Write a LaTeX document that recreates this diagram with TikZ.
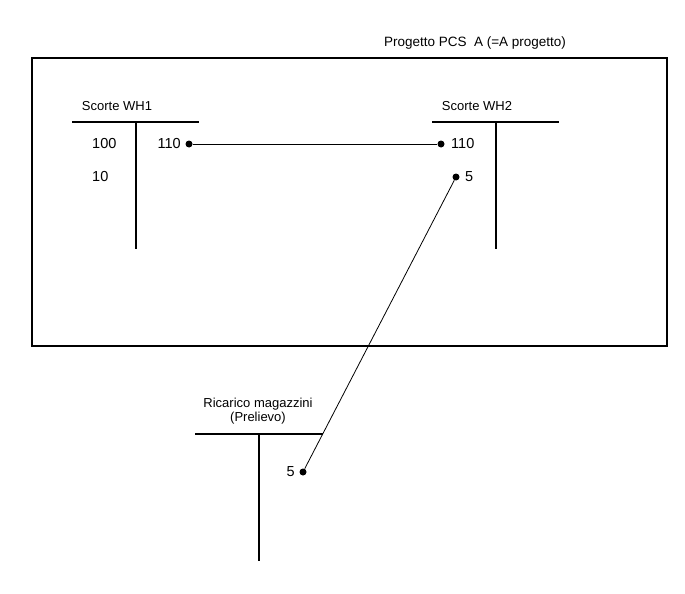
\documentclass[tikz,border=0pt]{standalone}
\usepackage{fontspec}
\setmainfont{Liberation Sans}
\begin{document}
\begin{tikzpicture}[x=1pt,y=-1pt,
  tline/.style={line width=2pt},
  lbl/.style={font=\fontsize{13}{14.5}\selectfont, inner sep=0pt},
  num/.style={font=\fontsize{14.5}{15}\selectfont, inner sep=0pt},
  dotn/.style={circle, fill=black, inner sep=0pt, minimum size=7pt},
  conn/.style={line width=0.8pt}]
\useasboundingbox (0,0) rectangle (685,594);
% frame
\draw[line width=2.6pt] (32,58) rectangle (667,346);
\node[lbl, font=\fontsize{13.5}{15}\selectfont] (title) at (475,43) {Progetto PCS\ \ A (=A progetto)};
% WH1
\node[lbl] (wh1) at (117,106) {Scorte WH1};
\coordinate (h1a) at (72,122); \coordinate (h1b) at (199,122);
\coordinate (v1a) at (136,122); \coordinate (v1b) at (136,249);
\draw[tline] (h1a) -- (h1b);
\draw[tline] (v1a) -- (v1b);
\node[num, anchor=west] (n100) at (92,144) {100};
\node[num, anchor=west] (n10) at (92,177) {10};
\node[num, anchor=east] (n110a) at (181,144) {110};
\node[dotn] (d1) at (189,144) {};
% WH2
\node[lbl] (wh2) at (477,106) {Scorte WH2};
\coordinate (h2a) at (432,122); \coordinate (h2b) at (559,122);
\coordinate (v2a) at (496,122); \coordinate (v2b) at (496,249);
\draw[tline] (h2a) -- (h2b);
\draw[tline] (v2a) -- (v2b);
\node[dotn] (d2) at (441,144) {};
\node[num, anchor=west] (n110b) at (451,144) {110};
\node[dotn] (d3) at (456,177) {};
\node[num, anchor=west] (n5b) at (465,177) {5};
% Ricarico
\node[lbl, align=center] (ric) at (258,411) {Ricarico magazzini\\(Prelievo)};
\coordinate (h3a) at (195,434); \coordinate (h3b) at (323,434);
\coordinate (v3a) at (259,434); \coordinate (v3b) at (259,561);
\draw[tline] (h3a) -- (h3b);
\draw[tline] (v3a) -- (v3b);
\node[dotn] (d4) at (303,472) {};
\node[num, anchor=east] (n5c) at (295,472) {5};
% connectors
\draw[conn] (d1) -- (d2);
\draw[conn] (d3) -- (d4);
\end{tikzpicture}
\end{document}
